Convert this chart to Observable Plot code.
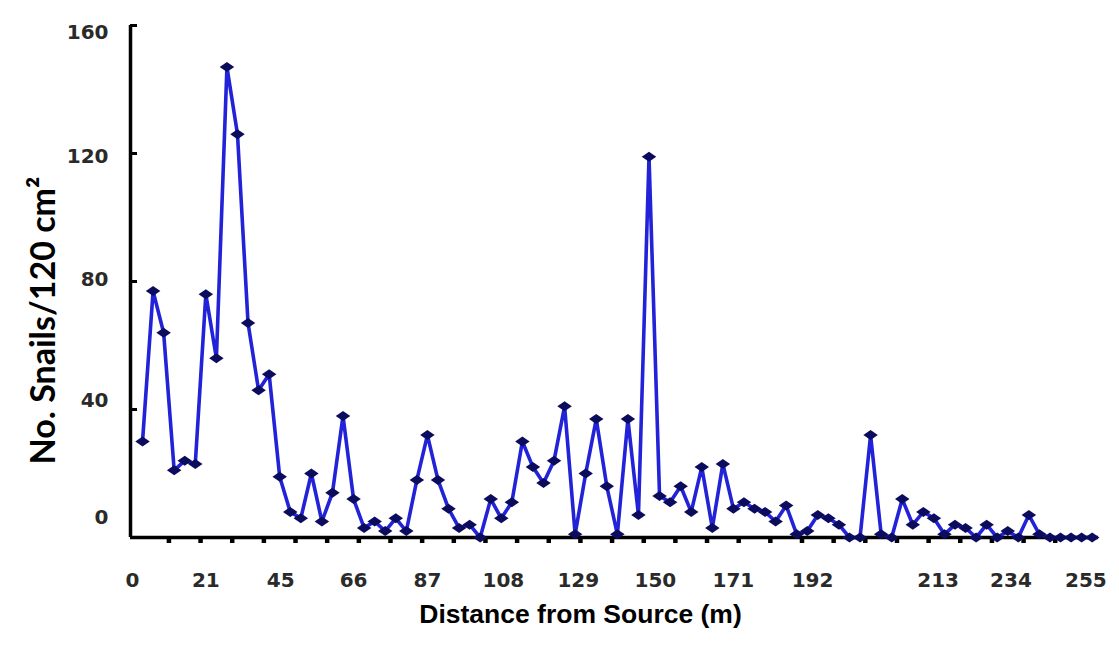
<!DOCTYPE html>
<html><head><meta charset="utf-8">
<script src="https://cdn.jsdelivr.net/npm/d3@7"></script>
<script src="https://cdn.jsdelivr.net/npm/@observablehq/plot@0.6"></script>
<style>body{margin:0;background:#fff} svg{display:block}</style>
</head><body><div id="chart"></div>
<script>
// Snail counts per 120 cm², consecutive sampling points along the stream
const snails = [30, 77, 64, 21, 24, 23, 76, 56, 147, 126,
  67, 46, 51, 19, 8, 6, 20, 5, 14, 38,
  12, 3, 5, 2, 6, 2, 18, 32, 18, 9,
  3, 4, 0, 12, 6, 11, 30, 22, 17, 24,
  41, 1, 20, 37, 16, 1, 37, 7, 119, 13,
  11, 16, 8, 22, 3, 23, 9, 11, 9, 8,
  5, 10, 1, 2, 7, 6, 4, 0, 0, 32,
  1, 0, 12, 4, 8, 6, 1, 4, 3, 0,
  4, 0, 2, 0, 7, 1, 0, 0, 0, 0, 0];
const xTickLabels = ["0", "21", "45", "66", "87", "108", "129", "150", "171", "192", "213", "234", "255"];
const xTickAt = [-0.95, 6.0, 13.1, 20.0, 27.0, 34.2, 41.3, 48.6, 56.0, 63.5, 75.4, 82.3, 89.4];
const yTickValues = [40, 80, 120, 160];
const yTickLabels = ["0", "40", "80", "120", "160"];
const yLabelAt = [6.2, 42.8, 80.5, 119, 157.7];
const xDomain = [-1.14, 90.6];
const yDomain = [0, 160];
const minorTicks = d3.range(2.5, 87, 3);

const data = snails.map((v, i) => ({i, v}));

const flatDiamond = {
  draw(ctx, size) {
    const r = Math.sqrt(size / Math.PI);
    ctx.moveTo(-1.45 * r, 0);
    ctx.lineTo(0, -r);
    ctx.lineTo(1.45 * r, 0);
    ctx.lineTo(0, r);
    ctx.closePath();
  }
};

const tickFont = {fontFamily: "DejaVu Sans", fontWeight: "bold", fontSize: 20, fill: "#2a2a2a"};

const chart = Plot.plot({
  width: 1119, height: 645,
  marginLeft: 130, marginRight: 21, marginTop: 25, marginBottom: 108,
  x: {domain: xDomain, axis: null},
  y: {domain: yDomain, axis: null},
  style: {background: "#fff", color: "#000"},
  marks: [
    Plot.axisX({ticks: minorTicks, tickSize: 6, strokeWidth: 4.5, tickFormat: () => "", label: null}),
    Plot.axisY({ticks: yTickValues, tickSize: 7, dx: 7, strokeWidth: 3, tickFormat: () => "", label: null}),
    Plot.ruleY([yDomain[0]], {stroke: "#000", strokeWidth: 3.5}),
    Plot.ruleX([xDomain[0]], {stroke: "#000", strokeWidth: 3.5}),
    Plot.line(data, {x: "i", y: "v", stroke: "#2222d8", strokeWidth: 3.6}),
    Plot.dot(data, {x: "i", y: "v", symbol: flatDiamond, r: 5, fill: "#0c0c5e"}),
    Plot.text(xTickLabels, {x: (d, i) => xTickAt[i], y: yDomain[0], dy: 43, text: d => d, ...tickFont}),
    Plot.text(yTickLabels, {x: xDomain[0], y: (d, i) => yLabelAt[i], dx: -22, textAnchor: "end", text: d => d, ...tickFont}),
    Plot.text(["No. Snails/120 cm²"], {frameAnchor: "left", textAnchor: "middle", lineAnchor: "middle",
      rotate: -90, dx: -86, dy: 39, text: d => d,
      fontFamily: "Lato", fontWeight: "bold", fontSize: 34, fill: "#000"}),
    Plot.text(["Distance from Source (m)"], {frameAnchor: "bottom", textAnchor: "middle", lineAnchor: "middle",
      dx: -34, dy: 77, text: d => d,
      fontFamily: "Liberation Sans", fontWeight: "bold", fontSize: 26.5, fill: "#000"})
  ]
});
document.getElementById("chart").appendChild(chart);
</script>
</body></html>
